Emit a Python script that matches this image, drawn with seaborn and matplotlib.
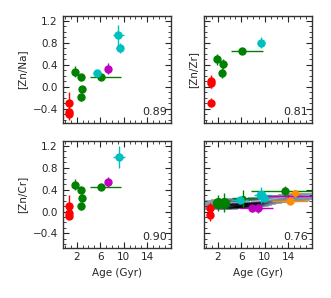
import numpy as np
import pandas as pd
import matplotlib
matplotlib.use('Agg')
from matplotlib import pyplot as plt
from matplotlib.ticker import MultipleLocator
from matplotlib.colors import ListedColormap
import seaborn as sns

# [Zn/Na]
na_age = [0.7, 0.65, 0.7, 1.7, 2.8, 2.9, 2.8, 6.1, 5.5, 9.1, 9.3, 7.4]
na_age_lo = [0.15, 0.15, 0.15, 0.3, 0.2, 0.2, 0.2, 1.9, 0.7, 1.0, 0.6, 0.4]
na_age_hi = [0.15, 0.15, 0.15, 0.3, 0.2, 0.6, 0.2, 3.5, 0.7, 1.0, 0.6, 0.4]
na_val = [-0.30, -0.46, -0.50, 0.27, 0.17, -0.05, -0.19, 0.18, 0.25, 0.95, 0.70, 0.33]
na_err = [0.20, 0.08, 0.10, 0.10, 0.06, 0.06, 0.08, 0.03, 0.04, 0.18, 0.09, 0.10]
na_col = ['red', 'red', 'red', 'green', 'green', 'green', 'green', 'green', 'c', 'c', 'c', 'm']

# [Zn/Zr]
zr_age = [0.9, 0.8, 0.9, 1.9, 2.9, 2.8, 6.1, 9.4]
zr_age_lo = [0.15, 0.15, 0.15, 0.3, 0.2, 0.2, 1.8, 0.7]
zr_age_hi = [0.15, 0.15, 0.15, 0.3, 0.6, 0.2, 3.6, 0.7]
zr_val = [0.10, 0.07, -0.29, 0.50, 0.41, 0.25, 0.645, 0.80]
zr_err = [0.12, 0.10, 0.09, 0.10, 0.09, 0.10, 0.03, 0.10]
zr_col = ['red', 'red', 'red', 'green', 'green', 'green', 'green', 'c']

# [Zn/Cr]
cr_age = [0.7, 0.7, 0.75, 1.7, 2.8, 2.9, 2.8, 6.1, 7.4, 9.2]
cr_age_lo = [0.15, 0.15, 0.15, 0.3, 0.2, 0.2, 0.2, 1.9, 0.5, 1.0]
cr_age_hi = [0.15, 0.15, 0.15, 0.3, 0.2, 0.6, 0.2, 3.5, 0.5, 1.0]
cr_val = [0.11, -0.02, -0.08, 0.49, 0.385, 0.25, 0.10, 0.445, 0.54, 1.00]
cr_err = [0.20, 0.06, 0.06, 0.10, 0.06, 0.07, 0.08, 0.03, 0.10, 0.20]
cr_col = ['red', 'red', 'red', 'green', 'green', 'green', 'green', 'green', 'm', 'c']

# [Mg/Ni]
ni_age = [0.75, 0.75, 2.1, 3.0, 6.3, 13.4, 5.7, 9.3, 9.8, 7.8, 8.9, 14.0, 14.3, 15.2]
ni_age_lo = [0.15, 0.15, 0.4, 0.5, 1.8, 5.7, 1.5, 1.2, 1.0, 2.0, 1.5, 4.5, 3.0, 1.0]
ni_age_hi = [0.15, 0.15, 0.4, 0.5, 1.8, 4.6, 1.5, 2.0, 1.0, 2.0, 2.5, 4.0, 3.0, 1.0]
ni_val = [0.06, -0.07, 0.16, 0.16, 0.24, 0.37, 0.21, 0.30, 0.24, 0.06, 0.06, 0.29, 0.19, 0.33]
ni_err = [0.10, 0.10, 0.15, 0.17, 0.15, 0.10, 0.04, 0.14, 0.05, 0.06, 0.08, 0.02, 0.04, 0.07]
ni_col = ['red', 'red', 'green', 'green', 'green', 'green', 'c', 'c', 'c', 'm', 'm', 'm',
          'darkorange', 'darkorange']
ni_ms = [5, 5, 7, 7, 3, 5, 5, 6, 5, 5, 5, 1, 5, 4]

# field sample behind [Mg/Ni]
field_age = [0.5, 1.0, 1.5, 2.0, 2.5, 3.0, 3.5, 4.0, 4.5, 5.0, 5.5, 6.0, 6.5, 7.0, 7.5, 8.0,
             8.5, 9.0, 9.5, 10.0, 11.0, 12.0, 13.0, 14.0, 15.0, 16.0, 17.0, 18.0,
             3.0, 3.5, 4.0, 4.5, 5.0, 5.5, 6.0, 6.5, 7.0, 7.5, 8.0, 8.5, 9.0, 9.5,
             3.2, 4.2, 5.2, 6.2, 7.2, 8.2, 9.2, 1.2, 2.2, 11.5, 12.5, 14.5, 16.5]
field_val = [0.15, 0.08, 0.20, 0.07, 0.19, 0.08, 0.20, 0.06, 0.19, 0.08, 0.21, 0.09, 0.21,
             0.10, 0.22, 0.11, 0.23, 0.12, 0.24, 0.14, 0.26, 0.17, 0.29, 0.19, 0.30, 0.21,
             0.31, 0.24,
             0.12, 0.11, 0.13, 0.12, 0.13, 0.12, 0.13, 0.13, 0.14, 0.13, 0.14, 0.15, 0.15, 0.16,
             0.07, 0.07, 0.08, 0.08, 0.09, 0.10, 0.10, 0.13, 0.13, 0.19, 0.22, 0.24, 0.26]

corr = ['0.89', '0.81', '0.90', '0.76']
ylabels = ['[Zn/Na]', '[Zn/Zr]', '[Zn/Cr]', '[Mg/Ni]']

sns.set_style('ticks')
plt.rcParams['font.family'] = ['DejaVu Sans']
plt.rcParams['font.size'] = 7.5

fig, axes = plt.subplots(2, 2, sharex=True, sharey=True, figsize=(3.31, 2.98), dpi=100)
fig.subplots_adjust(left=0.189, right=0.942, top=0.946, bottom=0.169, wspace=0.305, hspace=0.17)

ax = axes[1, 1]
field = pd.DataFrame({'age': field_age, 'val': field_val})
band_cmap = ListedColormap(plt.get_cmap('bone_r')(np.linspace(0.3, 1.0, 256)))
sns.kdeplot(data=field, x='age', y='val', fill=True, cmap=band_cmap, levels=14, thresh=0.04,
            bw_adjust=0.55, ax=ax, zorder=0)

panels = [
    (axes[0, 0], na_age, na_age_lo, na_age_hi, na_val, na_err, na_col, None),
    (axes[0, 1], zr_age, zr_age_lo, zr_age_hi, zr_val, zr_err, zr_col, None),
    (axes[1, 0], cr_age, cr_age_lo, cr_age_hi, cr_val, cr_err, cr_col, None),
    (axes[1, 1], ni_age, ni_age_lo, ni_age_hi, ni_val, ni_err, ni_col, ni_ms),
]

for i, (ax, age, lo, hi, val, err, col, ms) in enumerate(panels):
    for j in range(len(age)):
        m = 5 if ms is None else ms[j]
        ax.errorbar(age[j], val[j], xerr=[[lo[j]], [hi[j]]], yerr=err[j], fmt='o',
                    color=col[j], ms=m, elinewidth=1.0, capsize=0, zorder=3)
    ax.text(0.965, 0.05, corr[i], transform=ax.transAxes, ha='right', va='bottom', fontsize=8)
    ax.set_ylabel(ylabels[i], fontsize=7.5)
    ax.set_xlim(-0.4, 18)
    ax.set_ylim(-0.66, 1.29)
    ax.set_xticks([2, 6, 10, 14])
    ax.xaxis.set_minor_locator(MultipleLocator(1))
    ax.yaxis.set_major_locator(MultipleLocator(0.4))
    ax.yaxis.set_minor_locator(MultipleLocator(0.1))
    ax.tick_params(which='both', direction='in', top=True, right=True, labelsize=7.5)
    ax.tick_params(which='major', length=4, width=0.8)
    ax.tick_params(which='minor', length=2, width=0.6)
    ax.tick_params(axis='y', labelleft=(i % 2 == 0))
    for s in ax.spines.values():
        s.set_linewidth(1.0)
        s.set_color('#333333')
    if i >= 2:
        ax.set_xlabel('Age (Gyr)', fontsize=7.5)

fig.savefig('out.png', dpi=100)
